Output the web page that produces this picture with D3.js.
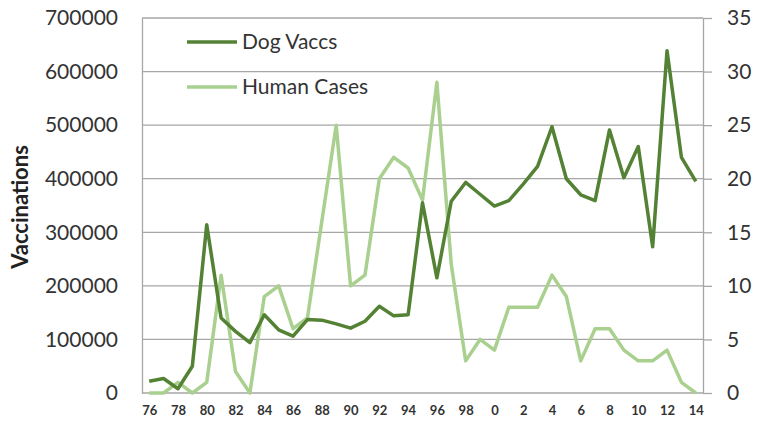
<!DOCTYPE html>
<html>
<head>
<meta charset="utf-8">
<script src="https://cdn.jsdelivr.net/npm/d3@7"></script>
<style>
  body { margin: 0; background: #fff; }
  svg text { font-family: Lato, "Open Sans", sans-serif; fill: #333; }
</style>
</head>
<body>
<svg id="chart"></svg>
<script>
// years 1976..2014, labelled the way the source sheet did it
const years = ["76","77","78","79","80","81","82","83","84","85","86","87","88","89","90","91","92","93","94","95","96","97","98","99","0","1","2","3","4","5","6","7","8","9","10","11","12","13","14"];

const dogVaccs = [22000, 27000, 8000, 50000, 314000, 140000, 115000, 94000, 146000, 118000,
  106000, 137000, 136000, 129000, 121000, 134000, 162000, 144000, 146000, 355000,
  215000, 358000, 393000, 371000, 349000, 359000, 390000, 423000, 497000, 400000,
  370000, 359000, 491000, 402000, 460000, 273000, 639000, 440000, 395000];

const humanCases = [0, 0, 1, 0, 1, 11, 2, 0, 9, 10,
  6, 7, 16, 25, 10, 11, 20, 22, 21, 18,
  29, 12, 3, 5, 4, 8, 8, 8, 11, 9,
  3, 6, 6, 4, 3, 3, 4, 1, 0];

const leftTicks = [0, 100000, 200000, 300000, 400000, 500000, 600000, 700000];
const rightTicks = [0, 5, 10, 15, 20, 25, 30, 35];

const width = 759, height = 423;
const plot = { left: 142, right: 703, top: 18, bottom: 393 };
const darkGreen = "#548235";
const lightGreen = "#a9d08e";
const gridColor = "#a6a6a6";

const svg = d3.select("#chart").attr("width", width).attr("height", height);

const x = d3.scalePoint().domain(years).range([plot.left, plot.right]).padding(0.5);
const yLeft = d3.scaleLinear().domain([0, 700000]).range([plot.bottom, plot.top]);
const yRight = d3.scaleLinear().domain([0, 35]).range([plot.bottom, plot.top]);

// gridlines
svg.append("g")
  .selectAll("line")
  .data(leftTicks)
  .join("line")
  .attr("x1", plot.left)
  .attr("x2", plot.right)
  .attr("y1", d => yLeft(d))
  .attr("y2", d => yLeft(d))
  .attr("stroke", gridColor)
  .attr("stroke-width", 1.3);

// left axis, labels only
const leftAxis = svg.append("g")
  .attr("transform", `translate(${plot.left},0)`)
  .call(d3.axisLeft(yLeft).tickValues(leftTicks).tickSize(0).tickPadding(24).tickFormat(d3.format("d")));
leftAxis.select(".domain").attr("stroke", gridColor).attr("stroke-width", 1.3);
leftAxis.selectAll("text").style("font-size", "21px");

// right axis with outward ticks
const rightAxis = svg.append("g")
  .attr("transform", `translate(${plot.right},0)`)
  .call(d3.axisRight(yRight).tickValues(rightTicks).tickSizeInner(9).tickSizeOuter(0).tickPadding(15));
rightAxis.select(".domain").attr("stroke", gridColor).attr("stroke-width", 1.3);
rightAxis.selectAll(".tick line").attr("stroke", gridColor).attr("stroke-width", 1.3);
rightAxis.selectAll("text").style("font-size", "21px");

// x axis labels every second year
const xAxis = svg.append("g")
  .attr("transform", `translate(0,${plot.bottom})`)
  .call(d3.axisBottom(x).tickValues(years.filter((d, i) => i % 2 === 0)).tickSize(0).tickPadding(13));
xAxis.select(".domain").remove();
xAxis.selectAll("text").style("font-size", "13px").style("font-weight", "bold").attr("fill", "#222");

// y axis title
svg.append("text")
  .attr("transform", "translate(28,207) rotate(-90)")
  .attr("text-anchor", "middle")
  .style("font-size", "22px")
  .style("font-weight", "bold")
  .style("fill", "#222")
  .text("Vaccinations");

const lineLeft = d3.line().x((d, i) => x(years[i])).y(d => yLeft(d));
const lineRight = d3.line().x((d, i) => x(years[i])).y(d => yRight(d));

svg.append("path")
  .datum(humanCases)
  .attr("d", lineRight)
  .attr("fill", "none")
  .attr("stroke", lightGreen)
  .attr("stroke-width", 3.5)
  .attr("stroke-linejoin", "round");

svg.append("path")
  .datum(dogVaccs)
  .attr("d", lineLeft)
  .attr("fill", "none")
  .attr("stroke", darkGreen)
  .attr("stroke-width", 3.5)
  .attr("stroke-linejoin", "round");

// legend
const legendItems = [
  { name: "Dog Vaccs", color: darkGreen, y: 42 },
  { name: "Human Cases", color: lightGreen, y: 87 }
];
const legend = svg.append("g")
  .selectAll("g")
  .data(legendItems)
  .join("g")
  .attr("transform", d => `translate(187,${d.y})`);
legend.append("line")
  .attr("x1", 0).attr("x2", 50)
  .attr("stroke", d => d.color)
  .attr("stroke-width", 3.5);
legend.append("text")
  .attr("x", 55)
  .attr("dy", "0.35em")
  .style("font-size", "21px")
  .text(d => d.name);
</script>
</body>
</html>
